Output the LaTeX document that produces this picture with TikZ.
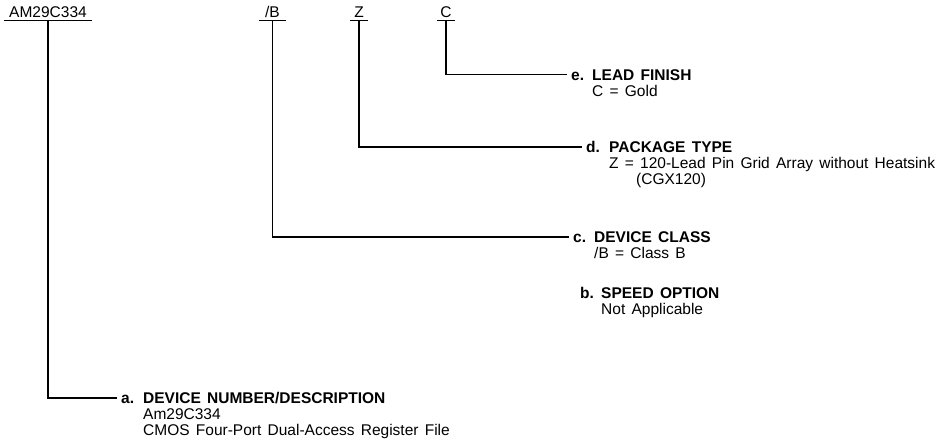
\documentclass[tikz,border=0pt]{standalone}
\usepackage{fontspec}
\setmainfont{Liberation Sans}[WordSpace=1.45]
\begin{document}
\begin{tikzpicture}[x=1pt,y=-1pt,
  every node/.style={font=\fontsize{15.5}{16}\selectfont},
  toplab/.style={anchor=south, inner xsep=0pt, inner ysep=2.5pt, text depth=0pt},
  head/.style={anchor=base west, inner ysep=0pt, inner xsep=4pt, text height=11pt, text depth=0pt, font=\fontsize{15.5}{16}\selectfont\bfseries},
  sub/.style={anchor=base west, inner sep=0pt, align=left},
  conn/.style={line width=1.3pt},
  uline/.style={line width=1.3pt}
]
\useasboundingbox (0,0) rectangle (947,447);

% top code labels
\node[toplab, minimum width=88pt] (lA) at (48,20.5) {AM29C334};
\node[toplab, minimum width=27pt] (lB) at (272.5,20.5) {/B};
\node[toplab, minimum width=18pt] (lZ) at (359,20.5) {Z};
\node[toplab, minimum width=18pt] (lC) at (446,20.5) {C};
\foreach \n in {lA,lB,lZ,lC} \draw[uline] (\n.south west) -- (\n.south east);

% entries (multi-line sub nodes are placed by their last baseline)
\node[head] (eH) at (567,80.2) {\makebox[21pt][l]{e.}LEAD FINISH};
\node[sub] (eS) at (592,96.2) {C = Gold};

\node[head] (dH) at (582,152.5) {\makebox[23pt][l]{d.}PACKAGE TYPE};
\node[sub] (dS) at (609,184.5) {Z = 120-Lead Pin Grid Array without Heatsink\\\hspace*{27pt}(CGX120)};

\node[head] (cH) at (569,242.5) {\makebox[21pt][l]{c.}DEVICE CLASS};
\node[sub] (cS) at (594,258.5) {/B = Class B};

\node[head] (bH) at (576,298) {\makebox[21pt][l]{b.}SPEED OPTION};
\node[sub] (bS) at (601,314) {Not Applicable};

\node[head] (aH) at (117,403.5) {\makebox[22pt][l]{a.}DEVICE NUMBER/DESCRIPTION};
\node[sub] (aS) at (143,435.5) {Am29C334\\CMOS Four-Port Dual-Access Register File};

% connectors
\draw[conn] (lC.south) |- (eH.west);
\draw[conn] (lZ.south) |- (dH.west);
\draw[conn] (lB.south) |- (cH.west);
\draw[conn] (lA.south) |- (aH.west);
\end{tikzpicture}
\end{document}
